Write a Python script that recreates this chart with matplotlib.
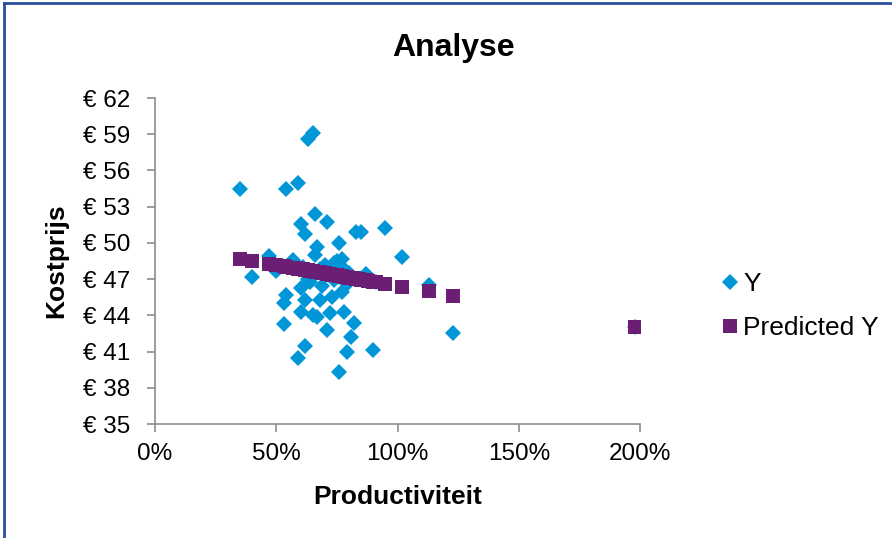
import matplotlib.pyplot as plt
from matplotlib.lines import Line2D
from matplotlib.ticker import FuncFormatter

plt.rcParams['font.family'] = ['Liberation Sans', 'DejaVu Sans']

# productiviteit (fraction) and kostprijs per point
productiviteit = [0.35, 0.40, 0.47, 0.50, 0.53, 0.53, 0.54, 0.54, 0.57, 0.58,
                  0.59, 0.59, 0.60, 0.60, 0.60, 0.61, 0.62, 0.62, 0.62, 0.63,
                  0.63, 0.64, 0.65, 0.65, 0.66, 0.66, 0.67, 0.67, 0.68, 0.68,
                  0.69, 0.70, 0.71, 0.71, 0.72, 0.72, 0.73, 0.74, 0.74, 0.75,
                  0.76, 0.76, 0.77, 0.77, 0.78, 0.78, 0.79, 0.79, 0.80, 0.81,
                  0.82, 0.83, 0.84, 0.85, 0.87, 0.88, 0.90, 0.91, 0.95, 1.02,
                  1.13, 1.23, 1.98]
kostprijs = [54.5, 47.2, 48.9, 47.7, 45.0, 43.3, 54.5, 45.7, 48.6, 47.9,
             40.5, 55.0, 51.6, 46.3, 44.3, 48.0, 41.5, 50.7, 45.3, 58.6,
             47.0, 46.8, 59.1, 44.0, 52.4, 49.0, 49.7, 43.9, 45.3, 47.8,
             46.4, 48.2, 51.7, 42.8, 44.2, 47.4, 45.5, 46.9, 48.3, 48.5,
             39.3, 50.0, 48.7, 45.9, 44.3, 47.8, 41.0, 46.6, 47.5, 42.2,
             43.4, 50.9, 47.0, 50.9, 47.4, 46.9, 41.1, 46.8, 51.2, 48.8,
             46.5, 42.5, 43.0]
predicted = [48.70, 48.53, 48.29, 48.18, 48.08, 48.08, 48.04, 48.04, 47.94, 47.90,
             47.87, 47.87, 47.83, 47.83, 47.83, 47.80, 47.76, 47.76, 47.76, 47.73,
             47.73, 47.69, 47.66, 47.66, 47.62, 47.62, 47.59, 47.59, 47.55, 47.55,
             47.52, 47.48, 47.45, 47.45, 47.41, 47.41, 47.38, 47.34, 47.34, 47.31,
             47.27, 47.27, 47.24, 47.24, 47.20, 47.20, 47.17, 47.17, 47.13, 47.10,
             47.06, 47.03, 46.99, 46.96, 46.89, 46.85, 46.78, 46.75, 46.61, 46.36,
             45.98, 45.63, 43.00]

x_ticks = [0, 0.5, 1.0, 1.5, 2.0]
y_ticks = [35, 38, 41, 44, 47, 50, 53, 56, 59, 62]

blue = '#0096D8'
purple = '#6B1F74'
axis_grey = '#8C8C8C'

fig = plt.figure(figsize=(8.92, 5.38), dpi=100)
ax = fig.add_axes([155 / 892, 1 - 424 / 538, 485 / 892, 326 / 538])

ax.plot(productiviteit, kostprijs, linestyle='none', marker='D', markersize=8.5,
        color=blue, markeredgewidth=0, label='Y')
ax.plot(productiviteit, predicted, linestyle='none', marker='s', markersize=10,
        color=purple, markeredgewidth=0, label='Predicted Y')

ax.set_xlim(0, 2)
ax.set_ylim(35, 62)
ax.set_xticks(x_ticks)
ax.set_yticks(y_ticks)
ax.xaxis.set_major_formatter(FuncFormatter(lambda v, p: f'{v * 100:.0f}%'))
ax.yaxis.set_major_formatter(FuncFormatter(lambda v, p: f'€ {v:.0f}'))

for side in ['top', 'right']:
    ax.spines[side].set_visible(False)
for side in ['left', 'bottom']:
    ax.spines[side].set_color(axis_grey)
    ax.spines[side].set_linewidth(1.2)
ax.tick_params(axis='both', direction='out', length=6, width=1.2, color=axis_grey,
               labelsize=17.5)
ax.tick_params(axis='x', pad=8)
ax.tick_params(axis='y', pad=12)

fig.suptitle('Analyse', x=454 / 892, y=1 - 48 / 538, va='center',
             fontsize=23, fontweight='bold')
ax.set_xlabel('Productiviteit', fontsize=19, fontweight='bold', labelpad=14)
ax.set_ylabel('Kostprijs', fontsize=19, fontweight='bold', labelpad=10)

handles = [Line2D([], [], linestyle='none', marker='D', markersize=8.5, color=blue,
                  markeredgewidth=0),
           Line2D([], [], linestyle='none', marker='s', markersize=10, color=purple,
                  markeredgewidth=0)]
fig.legend(handles, ['Y', 'Predicted Y'], loc='center left',
           bbox_to_anchor=(697 / 892, 1 - 306 / 538), frameon=False, fontsize=19,
           handlelength=0.7, handletextpad=0.15, labelspacing=0.75)

# chart frame
fig.add_artist(Line2D([0.004, 0.004], [0, 0.995], transform=fig.transFigure,
                      color='#2B4F9E', linewidth=2))
fig.add_artist(Line2D([0.004, 1], [0.995, 0.995], transform=fig.transFigure,
                      color='#2B4F9E', linewidth=2))

fig.savefig('out.png', dpi=100)
